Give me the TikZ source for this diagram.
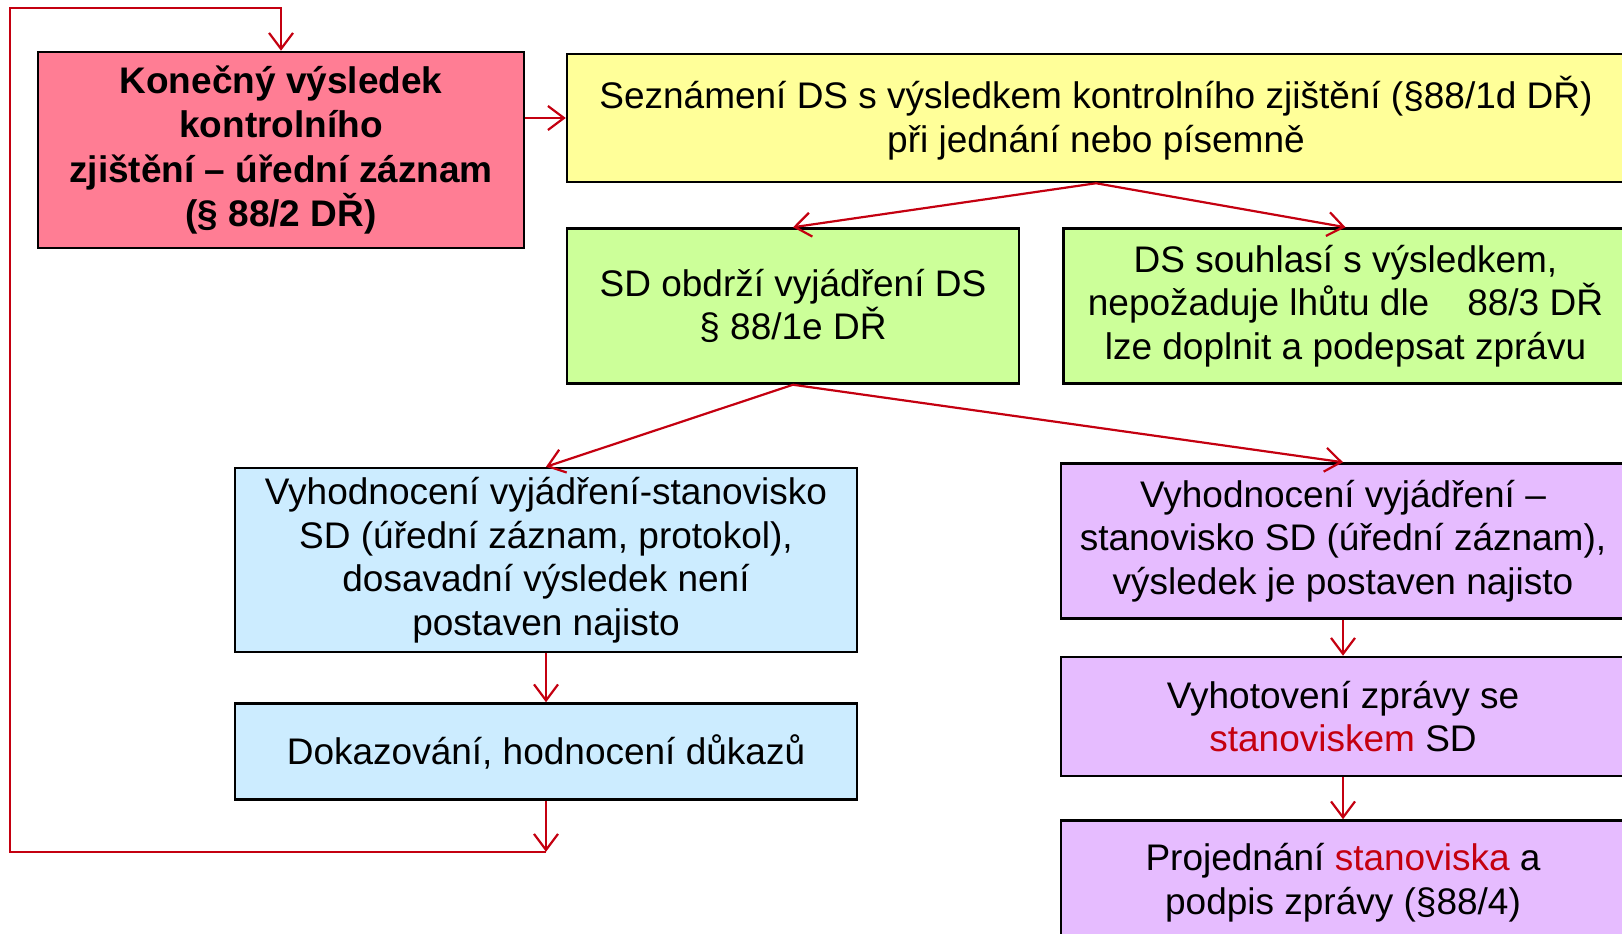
\documentclass[tikz,border=0pt]{standalone}
\usepackage{fontspec}
\setmainfont{Liberation Sans}
\usepackage{xcolor}
\usetikzlibrary{arrows.meta,positioning}

\definecolor{boxpink}{RGB}{255,125,148}
\definecolor{boxyellow}{RGB}{255,255,153}
\definecolor{boxgreen}{RGB}{204,255,153}
\definecolor{boxblue}{RGB}{204,236,255}
\definecolor{boxviolet}{RGB}{230,188,255}
\definecolor{linkred}{RGB}{196,0,16}

\begin{document}
\begin{tikzpicture}[
  x=1pt, y=-1pt,
  node distance=40pt,
  box/.style={draw, line width=2.5pt, align=center, inner sep=0pt, font=\fontsize{37}{43.5}\selectfont},
  flow/.style={->, draw=linkred, line width=2.2pt},
  >={Straight Barb[length=16pt,width=24pt]}
]
  \useasboundingbox (0,0) rectangle (1622,934);
  \clip (0,0) rectangle (1622,934);
  \node[box, fill=boxpink, minimum width=486pt, minimum height=196pt, font=\bfseries\fontsize{37}{44.5}\selectfont] (result) at (281,150) {Konečný výsledek\\kontrolního\\zjištění – úřední záznam\\(§ 88/2 DŘ)};
  \node[box, fill=boxyellow, minimum width=1058pt, minimum height=128pt] (notice) at (1096,118) {Seznámení DS s výsledkem kontrolního zjištění (§88/1d DŘ)\\při jednání nebo písemně};
  \node[box, fill=boxgreen, minimum width=452pt, minimum height=155pt] (reply) at (793,306) {SD obdrží vyjádření DS\\§ 88/1e DŘ};
  \node[box, fill=boxgreen, minimum width=564pt, minimum height=155pt, right=42pt of reply] (agree) {DS souhlasí s výsledkem,\\nepožaduje lhůtu dle\hspace{38pt}88/3 DŘ\\lze doplnit a podepsat zprávu};
  \node[box, fill=boxblue, minimum width=622pt, minimum height=184pt] (open) at (546,560) {Vyhodnocení vyjádření-stanovisko\\SD (úřední záznam, protokol),\\dosavadní výsledek není\\postaven najisto};
  \node[box, fill=boxblue, minimum width=622pt, minimum height=96pt, below=49pt of open] (proof) {Dokazování, hodnocení důkazů};
  \node[box, fill=boxviolet, minimum width=564pt, minimum height=155pt] (final) at (1343,541) {Vyhodnocení vyjádření –\\stanovisko SD (úřední záznam),\\výsledek je postaven najisto};
  \node[box, fill=boxviolet, minimum width=564pt, minimum height=119pt, below=36pt of final] (report) {Vyhotovení zprávy se\\\textcolor{linkred}{stanoviskem} SD};
  \node[box, fill=boxviolet, minimum width=564pt, minimum height=124pt, below=42pt of report] (discuss) {Projednání \textcolor{linkred}{stanoviska} a\\podpis zprávy (§88/4)};

  \coordinate (back) at ([yshift=-51pt]proof.south);
  \coordinate (loop) at (10,8);

  \draw[flow] (result.east |- notice.west) -- (notice.west);
  \draw[flow] (notice.south) -- (reply.north);
  \draw[flow] (notice.south) -- (agree.north);
  \draw[flow] (reply.south) -- (open.north);
  \draw[flow] (reply.south) -- (final.north);
  \draw[flow] (final) -- (report);
  \draw[flow] (report) -- (discuss);
  \draw[flow] (open) -- (proof);
  \draw[flow] (proof.south) -- (back);
  \draw[flow] (back) -| (loop) -| (result.north);
\end{tikzpicture}
\end{document}
